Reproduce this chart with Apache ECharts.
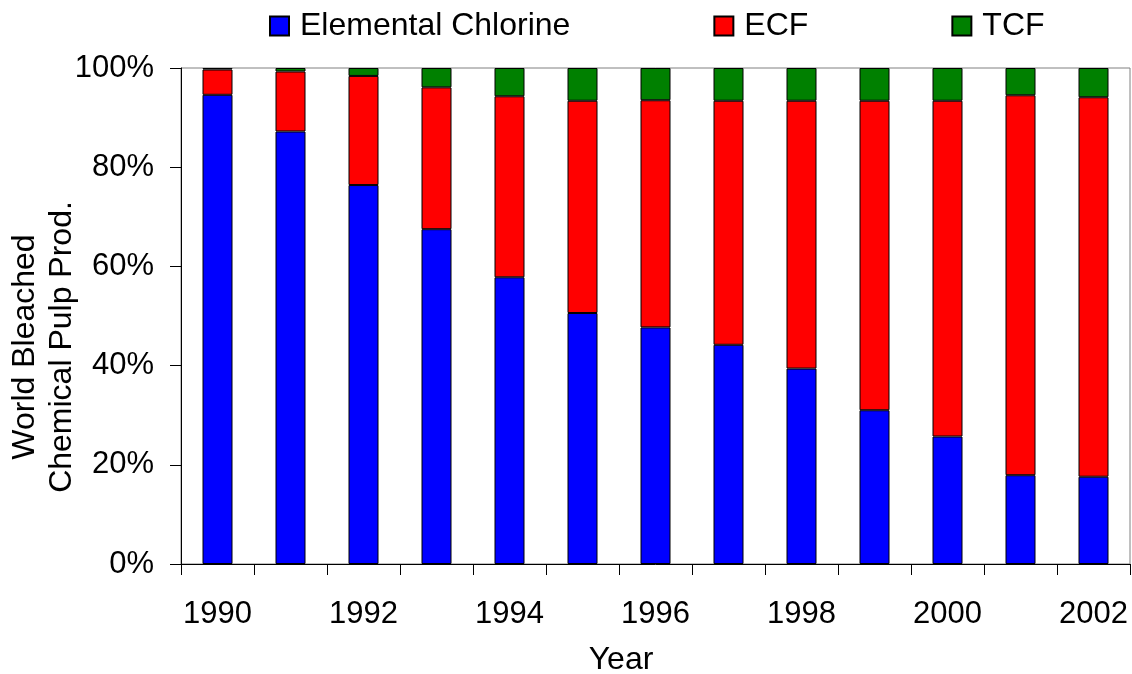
<!DOCTYPE html>
<html>
<head>
<meta charset="utf-8">
<script src="https://cdn.jsdelivr.net/npm/echarts@6/dist/echarts.min.js"></script>
<style>
  html, body { margin: 0; padding: 0; background: #fff; }
  #chart { width: 1132px; height: 674px; }
</style>
</head>
<body>
<div id="chart"></div>
<script>
// 年份
const years = ['1990', '1991', '1992', '1993', '1994', '1995', '1996',
  '1997', '1998', '1999', '2000', '2001', '2002'];

// 各漂白方式所占比例 (%)
const elementalChlorine = [94.6, 87.2, 76.4, 67.5, 57.8, 50.6, 47.7, 44.2, 39.4, 31.0, 25.7, 17.9, 17.6];
const ecf = [5.1, 12.1, 22.0, 28.6, 36.5, 42.8, 45.8, 49.2, 54.0, 62.4, 67.7, 76.6, 76.5];
const tcf = [0.3, 0.7, 1.6, 3.9, 5.7, 6.6, 6.5, 6.6, 6.6, 6.6, 6.6, 5.5, 5.9];

const FONT = '"Liberation Sans", Arial, sans-serif';

const COLORS = {
  ec: '#0000ff',
  ecf: '#ff0000',
  tcf: '#008000'
};

function barSeries(name, data, color) {
  return {
    name: name,
    type: 'bar',
    stack: 'total',
    barWidth: 30,
    data: data,
    itemStyle: { color: color, borderColor: '#000', borderWidth: 1 }
  };
}

function init() {
  const chart = echarts.init(document.getElementById('chart'));

  chart.setOption({
    animation: false,
    textStyle: { fontFamily: FONT },
    legend: {
      left: 269,
      top: 10,
      padding: 0,
      itemWidth: 19,
      itemHeight: 19,
      itemGap: 143,
      icon: 'rect',
      textStyle: { fontSize: 32, color: '#000', fontFamily: FONT, padding: [0, 0, 0, 6] },
      data: ['Elemental Chlorine', 'ECF', 'TCF']
    },
    grid: {
      left: 181, right: 2, top: 68, bottom: 110,
      show: true, borderColor: '#808080', borderWidth: 1
    },
    xAxis: {
      type: 'category',
      data: years,
      axisLine: { lineStyle: { color: '#000', width: 1 } },
      axisTick: { show: true, interval: 0, length: 11, lineStyle: { color: '#000', width: 1 } },
      axisLabel: { interval: 1, margin: 35, fontSize: 31, color: '#000', fontFamily: FONT }
    },
    yAxis: {
      type: 'value',
      min: 0,
      max: 100,
      interval: 20,
      axisLine: { show: true, lineStyle: { color: '#000', width: 1 } },
      axisTick: { show: true, inside: false, length: 11, lineStyle: { color: '#000', width: 1 } },
      splitLine: { show: false },
      axisLabel: { formatter: '{value}%', margin: 27, fontSize: 31, color: '#000', fontFamily: FONT }
    },
    graphic: [
      {
        type: 'text',
        x: 44,
        y: 347,
        rotation: Math.PI / 2,
        style: {
          text: 'World Bleached\nChemical Pulp Prod.',
          font: '32px ' + FONT,
          lineHeight: 37,
          align: 'center',
          verticalAlign: 'middle',
          fill: '#000'
        }
      },
      {
        type: 'text',
        x: 621,
        y: 660,
        style: {
          text: 'Year',
          font: '32px ' + FONT,
          align: 'center',
          verticalAlign: 'middle',
          fill: '#000'
        }
      }
    ],
    series: [
      barSeries('Elemental Chlorine', elementalChlorine, COLORS.ec),
      barSeries('ECF', ecf, COLORS.ecf),
      barSeries('TCF', tcf, COLORS.tcf)
    ]
  });
}

init();
</script>
</body>
</html>
